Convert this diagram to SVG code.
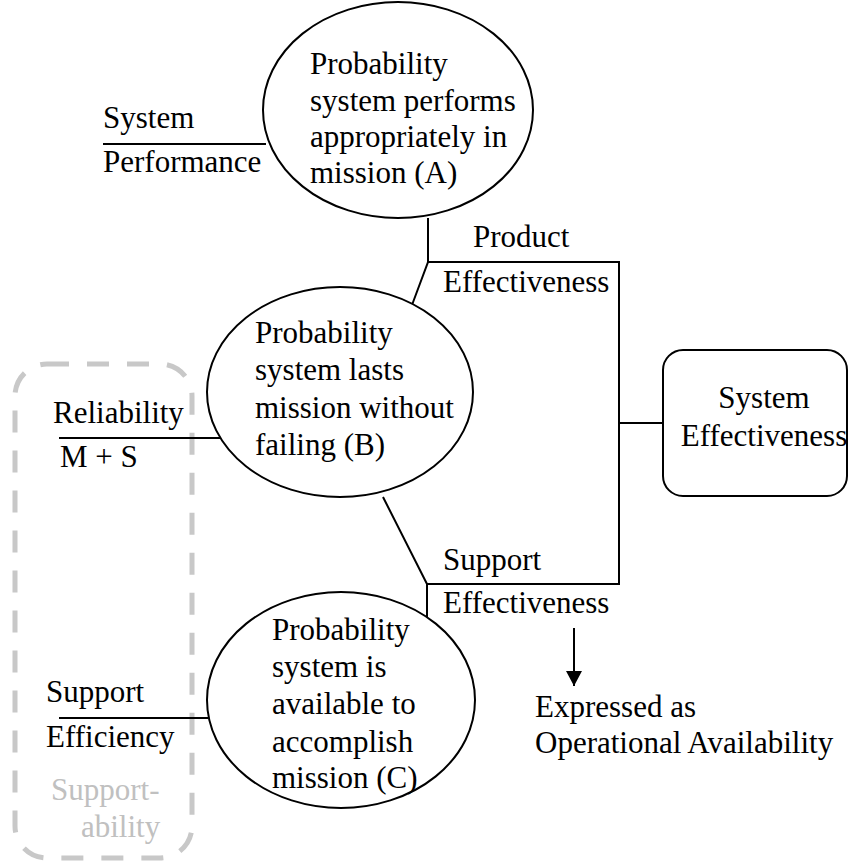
<svg xmlns="http://www.w3.org/2000/svg" width="849" height="865" viewBox="0 0 849 865">
<style>
text{font-family:"Liberation Serif","Times New Roman",serif;font-size:31px;fill:#000}
.node{fill:#fff;stroke:#000;stroke-width:2}
.ln{fill:none;stroke:#000;stroke-width:2}
.gray{fill:#c0c0c0}
</style>
<defs>
<marker id="ah" markerWidth="16" markerHeight="16" refX="15" refY="8" orient="auto" markerUnits="userSpaceOnUse">
<path d="M0,0 L15,8 L0,16 Z" fill="#000"/>
</marker>
</defs>
<rect id="supportability-group" x="15" y="364" width="177" height="494" rx="32" ry="32" fill="none" stroke="#c8c8c8" stroke-width="5" stroke-dasharray="22 18"/>
<g id="connectors">
<path class="ln" d="M103,144 H266"/>
<path class="ln" d="M59,438 H222"/>
<path class="ln" d="M59,718 H208"/>
<path class="ln" d="M428,218 V262 L412,305"/>
<path class="ln" d="M427,262 H619 V584 H427"/>
<path class="ln" d="M383,497 L427,584 V625"/>
<path class="ln" d="M619,423 H663"/>
<path class="ln" d="M574,628 V686" marker-end="url(#ah)"/>
</g>
<g id="nodeA">
<ellipse class="node" cx="398" cy="110" rx="135" ry="108"/>
<text x="310" y="74">Probability</text>
<text x="310" y="111">system performs</text>
<text x="310" y="147">appropriately in</text>
<text x="310" y="183">mission (A)</text>
</g>
<g id="nodeB">
<ellipse class="node" cx="340" cy="392" rx="133" ry="105"/>
<text x="255" y="343">Probability</text>
<text x="255" y="380">system lasts</text>
<text x="255" y="418">mission without</text>
<text x="255" y="455">failing (B)</text>
</g>
<g id="nodeC">
<ellipse class="node" cx="341" cy="700" rx="134" ry="108"/>
<text x="272" y="640">Probability</text>
<text x="272" y="677">system is</text>
<text x="272" y="714">available to</text>
<text x="272" y="752">accomplish</text>
<text x="272" y="788">mission (C)</text>
</g>
<g id="systemEffectiveness">
<rect class="node" x="663" y="350" width="184" height="146" rx="20" ry="20"/>
<text x="764" y="408" text-anchor="middle">System</text>
<text x="764" y="446" text-anchor="middle">Effectiveness</text>
</g>
<g id="labelSystemPerformance">
<text x="103" y="128">System</text>
<text x="103" y="172">Performance</text>
</g>
<g id="labelReliability">
<text x="53" y="423">Reliability</text>
<text x="60" y="467">M + S</text>
</g>
<g id="labelSupportEfficiency">
<text x="46" y="702">Support</text>
<text x="46" y="747">Efficiency</text>
</g>
<g id="labelSupportability">
<text class="gray" x="51" y="800">Support-</text>
<text class="gray" x="81" y="837">ability</text>
</g>
<g id="labelProductEffectiveness">
<text x="473" y="247">Product</text>
<text x="443" y="292">Effectiveness</text>
</g>
<g id="labelSupportEffectiveness">
<text x="443" y="570">Support</text>
<text x="443" y="613">Effectiveness</text>
</g>
<g id="labelExpressed">
<text x="535" y="717">Expressed as</text>
<text x="535" y="753">Operational Availability</text>
</g>
</svg>
